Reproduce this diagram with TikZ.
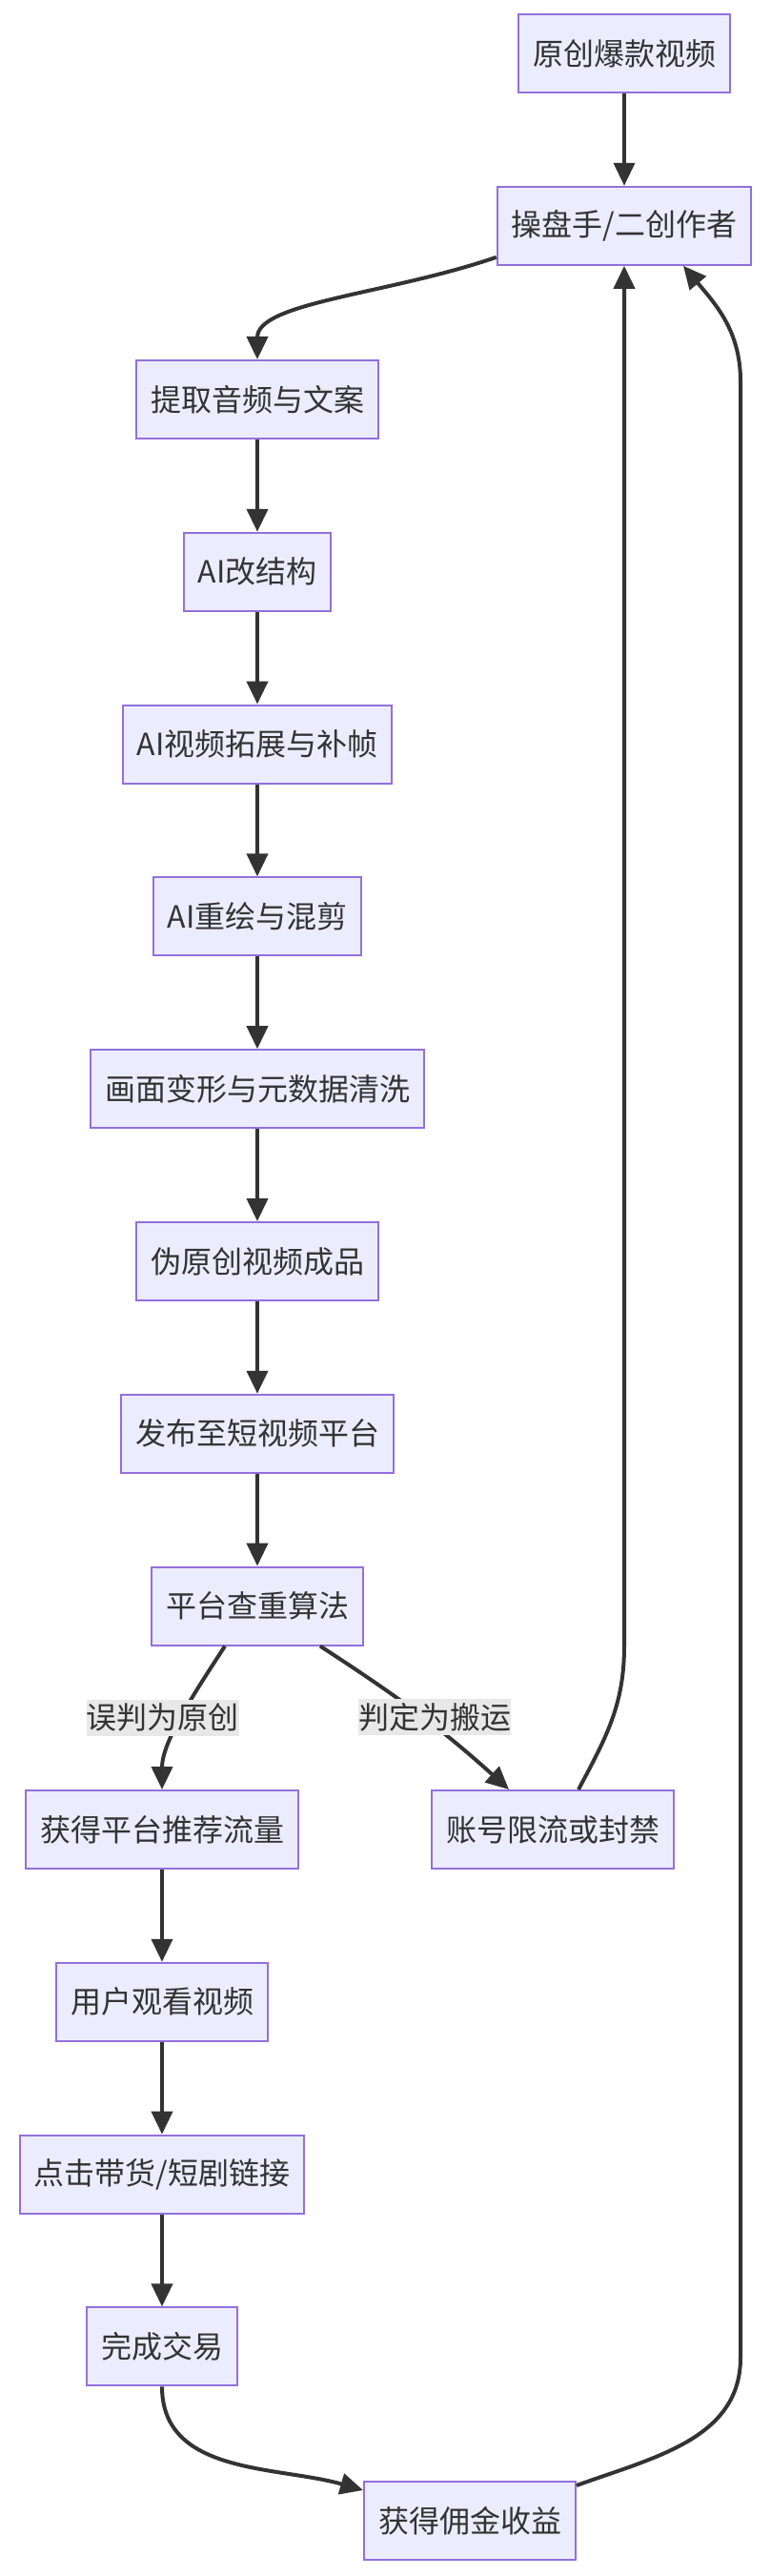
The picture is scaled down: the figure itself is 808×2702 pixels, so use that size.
\documentclass[tikz,border=0pt]{standalone}
\usepackage{fontspec}
\newfontfamily\cjk{Noto Sans CJK SC}
\usetikzlibrary{arrows.meta, positioning}
\definecolor{boxfill}{HTML}{ECECFF}
\definecolor{boxline}{HTML}{9370DB}
\definecolor{ink}{HTML}{333333}
\definecolor{lblbg}{HTML}{E8E8E8}
\tikzset{
  box/.style={draw=boxline, fill=boxfill, line width=1pt, text=ink, minimum height=41pt, inner xsep=7.5pt, inner ysep=0pt},
  flow/.style={draw=ink, line width=2pt, -{Triangle[length=12pt,width=11pt]}},
  lbl/.style={fill=lblbg, text=ink, inner xsep=0pt, inner ysep=2pt}
}

\begin{document}
\begin{tikzpicture}[x=0.5pt, y=0.5pt, font=\cjk\fontsize{16}{19}\selectfont, node distance=48.4pt]
    \useasboundingbox (0,0) rectangle (808,-2702);
    % main column
    \node[box] (orig) at (655,-56) {原创爆款视频};
    \node[box, below=of orig] (op) {操盘手/二创作者};
    \node[box] (extract) at (270,-419) {提取音频与文案};
    \node[box, below=of extract] (restruct) {AI改结构};
    \node[box, below=of restruct] (expand) {AI视频拓展与补帧};
    \node[box, below=of expand] (redraw) {AI重绘与混剪};
    \node[box, below=of redraw] (clean) {画面变形与元数据清洗};
    \node[box, below=of clean] (fake) {伪原创视频成品};
    \node[box, below=of fake] (publish) {发布至短视频平台};
    \node[box, below=of publish] (check) {平台查重算法};
    % two outcomes
    \node[box] (traffic) at (170,-1919) {获得平台推荐流量};
    \node[box] (ban) at (580,-1919) {账号限流或封禁};
    \node[box, below=of traffic] (watch) {用户观看视频};
    \node[box, below=of watch] (click) {点击带货/短剧链接};
    \node[box, below=of click] (deal) {完成交易};
    \node[box] (income) at (493,-2644) {获得佣金收益};
    \coordinate (loopB) at (777,-2473);
    \coordinate (loopT) at (777,-400);

    \draw[flow] (orig) -- (op);
    \draw[flow] ([yshift=4.5pt]op.south west) .. controls +(199:120) and +(90:60) .. (extract.north);
    \draw[flow] (extract) -- (restruct);
    \draw[flow] (restruct) -- (expand);
    \draw[flow] (expand) -- (redraw);
    \draw[flow] (redraw) -- (clean);
    \draw[flow] (clean) -- (fake);
    \draw[flow] (fake) -- (publish);
    \draw[flow] (publish) -- (check);
    \draw[flow] ([xshift=-17pt]check.south) .. controls +(237:60) and +(90:50) .. (traffic.north)
        node[lbl, pos=.5, xshift=-10pt] (lblA) {误判为原创};
    \draw[flow] ([xshift=33pt]check.south) to[out=-33, in=138]
        node[lbl, pos=.5, xshift=9pt, yshift=-2pt] (lblB) {判定为搬运} ([xshift=-23pt]ban.north);
    \draw[flow] ([xshift=13.5pt]ban.north) to[out=62, in=-90] (op.south |- check.south) -- (op.south);
    \draw[flow] (traffic) -- (watch);
    \draw[flow] (watch) -- (click);
    \draw[flow] (click) -- (deal);
    \draw[flow] (deal.south) to[out=-90, in=164] ([yshift=-5pt]income.north west);
    \draw[flow] ([yshift=-2.5pt]income.north east) to[out=20, in=-90] (loopB) -- (loopT)
        to[out=90, in=-50] ([xshift=31pt]op.south);
\end{tikzpicture}
\end{document}
